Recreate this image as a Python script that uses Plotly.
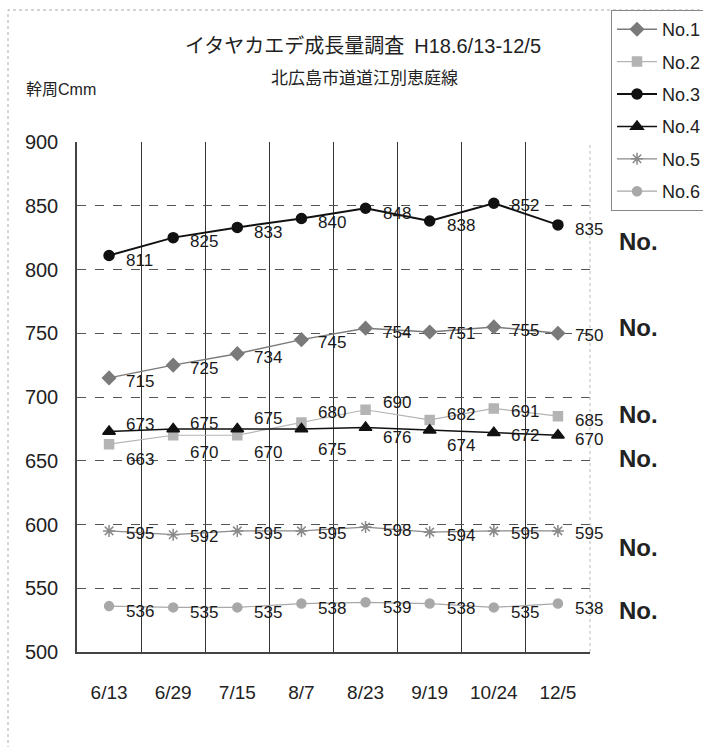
import plotly.graph_objects as go

# Survey dates (category axis)
dates = ["6/13", "6/29", "7/15", "8/7", "8/23", "9/19", "10/24", "12/5"]

# Trunk girth of each tree
no1 = [715, 725, 734, 745, 754, 751, 755, 750]
no2 = [663, 670, 670, 680, 690, 682, 691, 685]
no3 = [811, 825, 833, 840, 848, 838, 852, 835]
no4 = [673, 675, 675, 675, 676, 674, 672, 670]
no5 = [595, 592, 595, 595, 598, 594, 595, 595]
no6 = [536, 535, 535, 538, 539, 538, 535, 538]

names = ["No.1", "No.2", "No.3", "No.4", "No.5", "No.6"]
y_ticks = [500, 550, 600, 650, 700, 750, 800, 850, 900]

W, H = 703, 747
L, R, T, B = 77, 590, 142, 652  # plot area in pixels


def px_x(x):
    return (x - L) / (R - L)


def px_y(y):
    return (B - y) / (B - T)


SANS = "Liberation Sans, Arial, sans-serif"
CJK = "Noto Sans CJK JP"
LABEL_FONT = dict(family=SANS, size=17, color="#1a1a1a")

styles = [
    dict(color="#7a7a7a", width=1.5, symbol="diamond", size=10),
    dict(color="#b4b4b4", width=1.2, symbol="square", size=9),
    dict(color="#111111", width=2.0, symbol="circle", size=10),
    dict(color="#111111", width=1.5, symbol="triangle-up", size=11),
    dict(color="#8a8a8a", width=1.2, symbol="asterisk-open", size=10),
    dict(color="#a8a8a8", width=1.2, symbol="circle", size=9),
]

# Vertical pixel offset of each value label relative to its marker (up = positive)
label_dy = [
    [-4, -3, -4, -3, -4, -2, -4, -2],
    [-15, -17, -17, 10, 7, 5, -3, -4],
    [-5, -4, -5, -4, -5, -4, -2, -5],
    [7, 5, 10, -21, -10, -15, -3, -4],
    [-3, -2, -3, -3, -3, -3, -3, -3],
    [-5, -5, -5, -5, -5, -5, -5, -5],
]

fig = go.Figure()
annotations = []
for name, vals, st, dys in zip(names, [no1, no2, no3, no4, no5, no6], styles, label_dy):
    fig.add_trace(go.Scatter(
        x=dates, y=vals, name=name, legendgroup=name,
        mode="lines+markers",
        line=dict(color=st["color"], width=st["width"]),
        marker=dict(symbol=st["symbol"], size=st["size"], color=st["color"],
                    line=dict(color=st["color"], width=1.5)),
        cliponaxis=False,
    ))
    for d, v, dy in zip(dates, vals, dys):
        annotations.append(dict(
            x=d, y=v, xref="x", yref="y", text=str(v), showarrow=False,
            xanchor="left", yanchor="middle", xshift=15, yshift=dy,
            font=LABEL_FONT))

annotations += [
    dict(text="イタヤカエデ成長量調査 <span style='font-family:Liberation Sans, Arial'>&nbsp;H18.6/13-12/5</span>",
         x=px_x(363), y=px_y(44), xref="paper", yref="paper", yanchor="middle",
         showarrow=False, font=dict(family=CJK, size=20, color="#222")),
    dict(text="北広島市道道江別恵庭線",
         x=px_x(364), y=px_y(76), xref="paper", yref="paper", yanchor="middle",
         showarrow=False, font=dict(family=CJK, size=17, color="#222")),
    dict(text="幹周<span style='font-family:Liberation Sans, Arial'>Cmm</span>",
         x=px_x(24), y=px_y(88), xref="paper", yref="paper", xanchor="left",
         yanchor="middle", showarrow=False,
         font=dict(family=CJK, size=16, color="#222")),
]
for yy in [241, 327, 414, 458, 547, 610]:
    annotations.append(dict(
        text="<b>No.</b>", x=px_x(617), y=px_y(yy), xref="paper", yref="paper",
        xanchor="left", yanchor="middle", showarrow=False,
        font=dict(family=SANS, size=24, color="#222")))

fig.update_layout(
    width=W, height=H,
    margin=dict(l=L, r=W - R, t=T, b=H - B, autoexpand=False),
    paper_bgcolor="white", plot_bgcolor="white",
    showlegend=True,
    legend=dict(
        x=px_x(611), y=px_y(10), xanchor="left", yanchor="top",
        bordercolor="#888", borderwidth=1, bgcolor="white",
        font=dict(family=SANS, size=18, color="#222"),
        itemwidth=40, tracegroupgap=6,
    ),
    xaxis=dict(
        type="category", tickson="boundaries",
        showgrid=True, gridcolor="#333", gridwidth=1,
        showline=True, linecolor="#444", linewidth=1.5,
        ticks="", ticklabelstandoff=22,
        tickfont=dict(family=SANS, size=19, color="#222"),
        range=[-0.5, 7.5],
    ),
    yaxis=dict(
        range=[500, 900], tickvals=y_ticks,
        showgrid=True, gridcolor="#555", gridwidth=1, griddash="dash",
        showline=True, linecolor="#444", linewidth=1.5,
        zeroline=False, ticks="", ticklabelstandoff=13,
        tickfont=dict(family=SANS, size=20, color="#222"),
    ),
    annotations=annotations,
    shapes=[
        dict(type="rect", xref="paper", yref="paper",
             x0=px_x(8), x1=px_x(760), y0=px_y(800), y1=px_y(10),
             line=dict(color="#aaa", width=1, dash="dot"), layer="below"),
        dict(type="line", xref="paper", yref="paper", x0=1, x1=1, y0=0, y1=1,
             line=dict(color="#bbb", width=1, dash="dot")),
    ],
)

fig.write_html("out.html")
